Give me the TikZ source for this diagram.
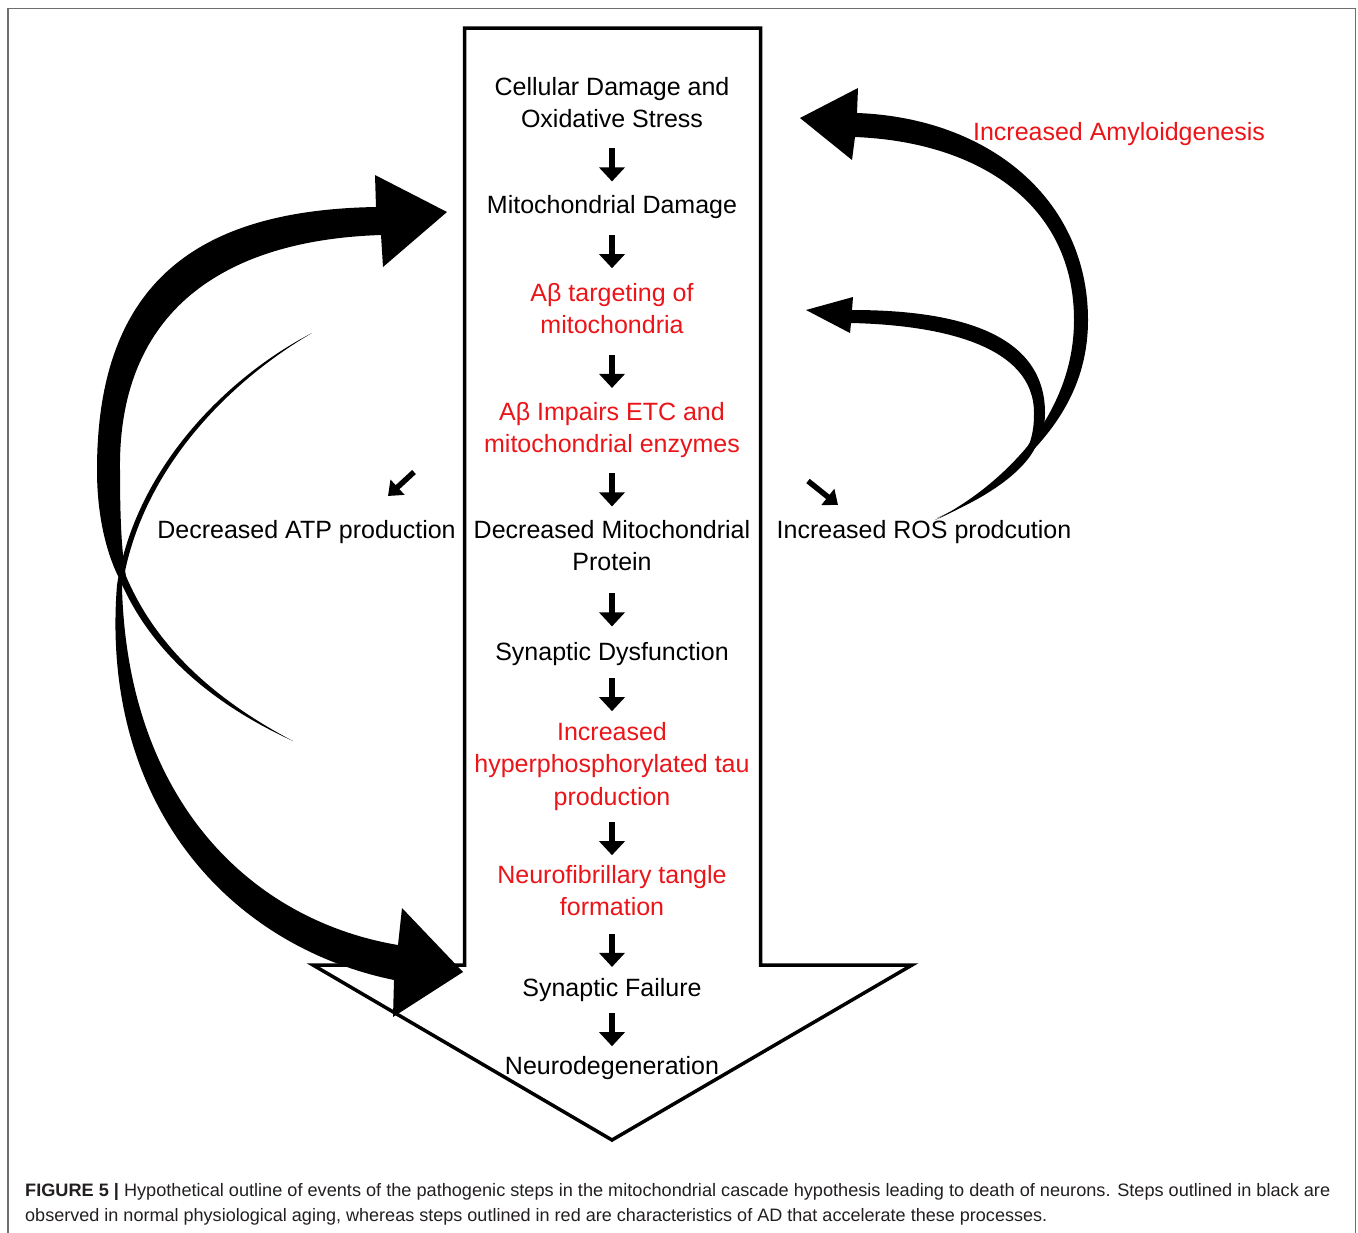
\documentclass[tikz,border=0pt]{standalone}
\usepackage{fontspec}
\setmainfont{Liberation Sans}
\usepackage{graphicx}
\usetikzlibrary{arrows.meta,calc}
\definecolor{adred}{RGB}{235,20,25}
\definecolor{framegray}{RGB}{110,110,110}
\definecolor{capblack}{RGB}{35,31,32}
\newcommand\stt{\rule[-7bp]{0pt}{29bp}}
\newcommand\mainsz{\fontsize{25bp}{32.5bp}\selectfont}
\newcommand\capsz{\fontsize{18bp}{25bp}\selectfont}
\begin{document}
\begin{tikzpicture}[x=1bp,y=-1bp,
  txt/.style={align=center, inner sep=0pt, anchor=north, font=\mainsz},
  redtxt/.style={txt, text=adred},
  dnarr/.style={line width=6bp, -{Triangle[length=14bp,width=25bp]}},
  diarr/.style={line width=5.5bp, -{Triangle[length=13bp,width=20bp]}},
  bigarrow/.style={draw=black, line width=3.5bp, line join=miter, fill=white},
  frameline/.style={draw=framegray, line width=1.5bp},
  captxt/.style={anchor=base west, inner sep=0pt, text=capblack, font=\capsz}]
\useasboundingbox (0,0) rectangle (1358,1232);
\fill[white] (0,0) rectangle (1358,1232);
% frame
\draw[frameline] (8,1240) -- (8,8.5) -- (1355.5,8.5) -- (1355.5,1240);
% main arrow outline
\draw[bigarrow] (464.5,28) -- (760.5,28) -- (760.5,965) -- (912,965) -- (612,1140)
  -- (313,965) -- (464.5,965) -- cycle;
% cascade texts
\node[txt] (c1) at (612,73) {\stt Cellular Damage and\\\stt Oxidative Stress};
\node[txt] (c2) at (612,191) {\stt Mitochondrial Damage};
\node[redtxt] (c3) at (612,279) {\stt Aβ targeting of\\\stt mitochondria};
\node[redtxt] (c4) at (612,398) {\stt Aβ Impairs ETC and\\\stt mitochondrial enzymes};
\node[txt] (c5) at (612,516) {\stt Decreased Mitochondrial\\\stt Protein};
\node[txt] (c6) at (612,638) {\stt Synaptic Dysfunction};
\node[redtxt] (c7) at (612,718) {\stt Increased\\\stt hyperphosphorylated tau\\\stt production};
\node[redtxt] (c8) at (612,861) {\stt Neurofibrillary tangle\\\stt formation};
\node[txt] (c9) at (612,974) {\stt Synaptic Failure};
\node[txt] (c10) at (612,1052) {\stt Neurodegeneration};
% side labels
\node[txt] (atp) at (306.5,516) {\stt Decreased ATP production};
\node[txt] (ros) at (924,516) {\stt Increased ROS prodcution};
\node[redtxt] (amy) at (1119,118) {\stt Increased Amyloidgenesis};
% step arrows
\foreach \a/\b in {c1/c2,c2/c3,c3/c4,c4/c5,c5/c6,c6/c7,c7/c8,c8/c9,c9/c10}{
  \draw[dnarr] ($(\a.south)!0.5!(\b.north)+(0,-14.5)$) -- ++(0,33);
}
% small diagonal arrows
\coordinate (atpS) at (414,472);
\coordinate (atpE) at (388,496);
\coordinate (rosS) at (808,481);
\coordinate (rosE) at (838,505);
\draw[diarr] (atpS) -- (atpE);
\draw[diarr] (rosS) -- (rosE);
% curved arrow A: to Mitochondrial Damage
\fill[black] (293,741) .. controls (210,703) and (150,650) .. (120,580)
  .. controls (106,553) and (97,515) .. (97,470)
  .. controls (97,280) and (200,210) .. (376,207)
  -- (375,175) -- (447,212) -- (383,267) -- (381,235)
  .. controls (225,240) and (118,310) .. (120,470)
  .. controls (120,510) and (121,550) .. (126,576)
  .. controls (155,645) and (213,699) .. (293,741) -- cycle;
% curved arrow B: to Synaptic Failure
\fill[black] (312,333) .. controls (225,378) and (135,470) .. (117,585)
  .. controls (100,800) and (225,945) .. (394,980)
  -- (393,1017) -- (463,972) -- (402,908) -- (398,945)
  .. controls (250,920) and (128,800) .. (122,588)
  .. controls (139,472) and (228,382) .. (312,333) -- cycle;
% curved arrow C: Increased Amyloidgenesis
\fill[black] (935,520) .. controls (970,505) and (1005,482) .. (1036,447)
  .. controls (1065,415) and (1088,375) .. (1088,320)
  .. controls (1088,200) and (990,118) .. (857,113)
  -- (858,88) -- (800,118) -- (852,160) -- (855,137)
  .. controls (980,142) and (1074,205) .. (1074,320)
  .. controls (1074,368) and (1056,408) .. (1031,442)
  .. controls (1002,478) and (968,503) .. (935,520) -- cycle;
% curved arrow D: ROS
\fill[black] (937,518) .. controls (990,497) and (1025,470) .. (1036,446)
  .. controls (1043,432) and (1045,425) .. (1045,413)
  .. controls (1045,330) and (950,310) .. (852,310)
  -- (853,297) -- (806,310) -- (850,333) -- (851,323)
  .. controls (940,325) and (1034,345) .. (1034,413)
  .. controls (1034,425) and (1033,432) .. (1030,442)
  .. controls (1015,472) and (985,497) .. (937,518) -- cycle;
% caption
\node[captxt] (cap1) at (25,1196) {\resizebox{1305bp}{\height}{\textbf{FIGURE 5 |} Hypothetical outline of events of the pathogenic steps in the mitochondrial cascade hypothesis leading to death of neurons. Steps outlined in black are}};
\node[captxt] (cap2) at (25,1221) {\resizebox{1022bp}{\height}{observed in normal physiological aging, whereas steps outlined in red are characteristics of AD that accelerate these processes.}};
\end{tikzpicture}
\end{document}
